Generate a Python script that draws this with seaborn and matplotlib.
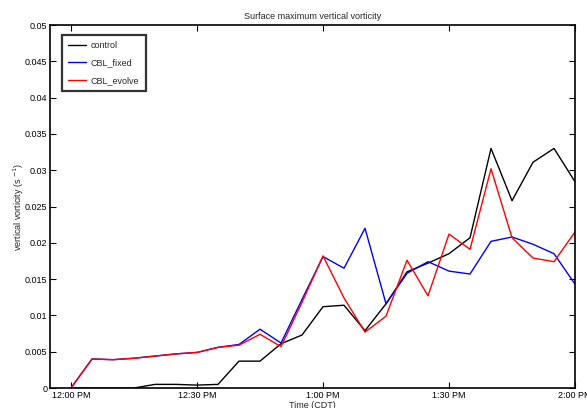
import matplotlib
matplotlib.use("Agg")
import matplotlib.pyplot as plt
import seaborn as sns
import pandas as pd

# Minutes after 12:00 PM, sampled every 5 minutes
minutes = [0, 5, 10, 15, 20, 25, 30, 35, 40, 45, 50, 55, 60,
           65, 70, 75, 80, 85, 90, 95, 100, 105, 110, 115, 120]

control = [0.0, 0.0, 0.0, 0.0, 0.0005, 0.0005, 0.0004, 0.0005, 0.0037, 0.0037,
           0.0061, 0.0073, 0.0112, 0.0114, 0.0079, 0.0116, 0.0160, 0.0172,
           0.0185, 0.0207, 0.0330, 0.0258, 0.0311, 0.0330, 0.0284]
cbl_fixed = [0.0, 0.0040, 0.0039, 0.0041, 0.0044, 0.0047, 0.0049, 0.0056, 0.0060,
             0.0081, 0.0062, 0.0122, 0.0181, 0.0165, 0.0220, 0.0116, 0.0158,
             0.0174, 0.0161, 0.0157, 0.0202, 0.0208, 0.0198, 0.0185, 0.0143]
cbl_evolve = [0.0, 0.0040, 0.0039, 0.0041, 0.0044, 0.0047, 0.0049, 0.0056, 0.0059,
              0.0074, 0.0057, 0.0118, 0.0182, 0.0124, 0.0077, 0.0099, 0.0176,
              0.0127, 0.0212, 0.0191, 0.0302, 0.0207, 0.0179, 0.0174, 0.0215]

series_names = ["control", "CBL_fixed", "CBL_evolve"]
series_colors = ["black", "#0000ff", "#ff0000"]

xtick_pos = [0, 30, 60, 90, 120]
xtick_labels = ["12:00 PM", "12:30 PM", "1:00 PM", "1:30 PM", "2:00 PM"]
ytick_pos = [0, 0.005, 0.01, 0.015, 0.02, 0.025, 0.03, 0.035, 0.04, 0.045, 0.05]
ytick_labels = ["0", "0.005", "0.01", "0.015", "0.02", "0.025", "0.03",
                "0.035", "0.04", "0.045", "0.05"]

df = pd.DataFrame({
    "minute": minutes * 3,
    "vorticity": control + cbl_fixed + cbl_evolve,
    "run": [series_names[0]] * len(minutes) + [series_names[1]] * len(minutes)
           + [series_names[2]] * len(minutes),
})

sns.set_style("white")
plt.rcParams["font.family"] = ["Liberation Sans", "DejaVu Sans"]

fig = plt.figure(figsize=(5.87, 4.08), dpi=100)
ax = fig.add_axes([0.0852, 0.049, 0.8944, 0.8897])

sns.lineplot(data=df, x="minute", y="vorticity", hue="run",
             hue_order=series_names, palette=series_colors,
             linewidth=1.0, ax=ax, legend=True)

ax.set_xlim(-5, 120)
ax.set_ylim(0, 0.05)
ax.set_xticks(xtick_pos)
ax.set_xticklabels(xtick_labels, fontsize=6.5)
ax.set_yticks(ytick_pos)
ax.set_yticklabels(ytick_labels, fontsize=6.5)
ax.tick_params(direction="in", length=4, width=0.8, top=True, right=True,
               bottom=True, left=True, pad=2, colors="black")

for s in ax.spines.values():
    s.set_visible(True)
    s.set_color("black")
    s.set_linewidth(1.2)

ax.set_title("Surface maximum vertical vorticity", fontsize=6.5, pad=4)
ax.set_xlabel("Time (CDT)", fontsize=6.5, labelpad=1)
ax.set_ylabel("vertical vorticity (s $^{-1}$)", fontsize=6.5, labelpad=-1)

leg = ax.legend(loc="upper left", fontsize=6.5, frameon=True, fancybox=False,
                handlelength=1.9, handletextpad=0.6, borderpad=0.7,
                labelspacing=0.9, borderaxespad=0,
                bbox_to_anchor=(0.023, 0.972))
leg.get_frame().set_edgecolor("black")
leg.get_frame().set_linewidth(1.6)
for line in leg.get_lines():
    line.set_linewidth(1.0)

fig.savefig("out.png", dpi=100)
